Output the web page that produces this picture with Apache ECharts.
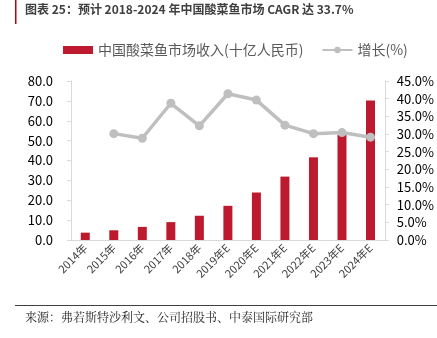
<!DOCTYPE html>
<html><head><meta charset="utf-8">
<script src="https://cdn.jsdelivr.net/npm/echarts@6/dist/echarts.min.js"></script>
<style>html,body{margin:0;padding:0;background:#fff}#c{width:437px;height:338px}</style>
</head><body><div id="c"></div>
<script>
var categories = ['2014年','2015年','2016年','2017年','2018年','2019年E','2020年E','2021年E','2022年E','2023年E','2024年E'];
var revenue = [3.7, 4.9, 6.6, 9.0, 12.2, 17.2, 23.9, 31.9, 41.6, 53.0, 70.2];
var growth = [null, 30.1, 28.8, 38.7, 32.3, 41.4, 39.6, 32.5, 30.1, 30.4, 29.1];
var leftTicks = {min: 0, max: 80, interval: 10};
var rightTicks = {min: 0, max: 45, interval: 5};
var titleText = '图表 25：预计 2018-2024 年中国酸菜鱼市场 CAGR 达 33.7%';
var sourceText = '来源：弗若斯特沙利文、公司招股书、中泰国际研究部';
var font = '"Noto Sans CJK SC", "Noto Sans", sans-serif';

var chart = echarts.init(document.getElementById('c'), null, {renderer: 'canvas'});
chart.setOption({
  animation: false,
  backgroundColor: '#fff',
  textStyle: {fontFamily: font},
  graphic: [
    {type: 'rect', shape: {x: 15, y: 0, width: 1.5, height: 24}, style: {fill: '#c00000'}},
    {type: 'text', left: 25, top: 3, style: {text: titleText, font: 'bold 12px ' + font, fill: '#404040'}},
    {type: 'line', shape: {x1: 15, y1: 305.5, x2: 437, y2: 305.5}, style: {stroke: '#404040', lineWidth: 1.2}},
    {type: 'text', left: 25, top: 311, style: {text: sourceText, font: '12px "Noto Serif CJK SC", ' + font, fill: '#262626'}}
  ],
  legend: {
    top: 38, left: 58, itemGap: 18,
    textStyle: {fontSize: 14, color: '#595959', fontFamily: font},
    data: [
      {name: '中国酸菜鱼市场收入(十亿人民币)', icon: 'rect', itemStyle: {color: '#be1a2f'}},
      {name: '增长(%)'}
    ],
    itemWidth: 30, itemHeight: 8
  },
  grid: {left: 71, right: 52, top: 81, bottom: 98},
  xAxis: {
    type: 'category', data: categories,
    axisLine: {lineStyle: {color: '#d9d9d9'}},
    axisTick: {show: false},
    axisLabel: {rotate: 45, fontSize: 11, color: '#404040', margin: 6, interval: 0, fontFamily: font}
  },
  yAxis: [
    {type: 'value', min: leftTicks.min, max: leftTicks.max, interval: leftTicks.interval,
     axisLine: {show: true, lineStyle: {color: '#d9d9d9'}},
     axisTick: {show: true, length: 4, lineStyle: {color: '#d9d9d9'}},
     splitLine: {show: false},
     axisLabel: {fontSize: 13, color: '#000', margin: 18, formatter: function(v){return v.toFixed(1);}}},
    {type: 'value', min: rightTicks.min, max: rightTicks.max, interval: rightTicks.interval,
     axisLine: {show: true, lineStyle: {color: '#d9d9d9'}},
     axisTick: {show: true, length: 4, lineStyle: {color: '#d9d9d9'}},
     splitLine: {show: false},
     axisLabel: {fontSize: 13, color: '#000', margin: 12, formatter: function(v){return v.toFixed(1) + '%';}}}
  ],
  series: [
    {name: '中国酸菜鱼市场收入(十亿人民币)', type: 'bar', data: revenue, barWidth: 9,
     itemStyle: {color: '#be1a2f'}},
    {name: '增长(%)', type: 'line', yAxisIndex: 1, data: growth,
     lineStyle: {color: '#bfbfbf', width: 3.5}, itemStyle: {color: '#bfbfbf'},
     symbol: 'circle', symbolSize: 9}
  ]
});
</script></body></html>
